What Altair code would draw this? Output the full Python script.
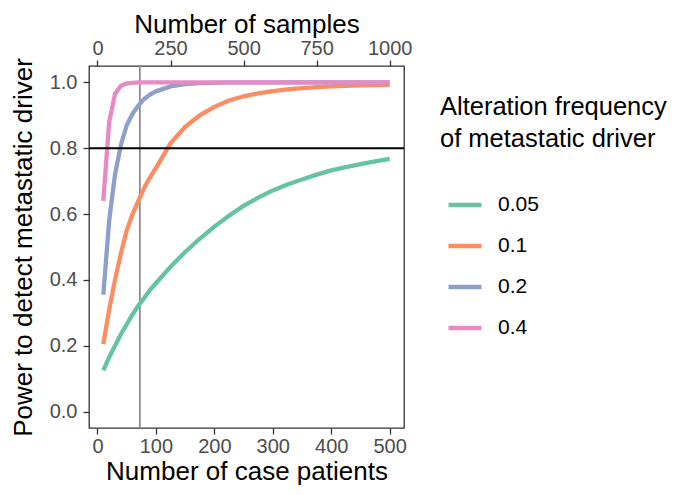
import altair as alt
import pandas as pd

# ---- data ----
n_patients = [10, 20, 30, 40, 50, 60, 70, 80, 90, 100, 125, 150, 175, 200, 225,
              250, 275, 300, 325, 350, 375, 400, 425, 450, 475, 500]
power_005 = [0.125, 0.165, 0.200, 0.235, 0.265, 0.295, 0.322, 0.345, 0.370, 0.390,
             0.440, 0.485, 0.525, 0.562, 0.595, 0.625, 0.650, 0.672, 0.690, 0.705,
             0.720, 0.733, 0.743, 0.752, 0.760, 0.768]
power_01 = [0.205, 0.310, 0.400, 0.480, 0.550, 0.600, 0.640, 0.680, 0.712, 0.740,
            0.815, 0.865, 0.900, 0.926, 0.945, 0.958, 0.967, 0.974, 0.979, 0.983,
            0.986, 0.988, 0.990, 0.991, 0.992, 0.993]
power_02 = [0.355, 0.580, 0.720, 0.810, 0.870, 0.905, 0.930, 0.950, 0.963, 0.973,
            0.988, 0.995, 0.998, 0.999, 1.000, 1.000, 1.000, 1.000, 1.000, 1.000,
            1.000, 1.000, 1.000, 1.000, 1.000, 1.000]
power_04 = [0.640, 0.880, 0.965, 0.990, 0.997, 0.999, 1.000, 1.000, 1.000, 1.000,
            1.000, 1.000, 1.000, 1.000, 1.000, 1.000, 1.000, 1.000, 1.000, 1.000,
            1.000, 1.000, 1.000, 1.000, 1.000, 1.000]
freq_labels = ["0.05", "0.1", "0.2", "0.4"]
colors = ["#66C2A5", "#FC8D62", "#8DA0CB", "#E78AC3"]
threshold = [0.8]
chosen_samples = [145]
x_ticks = [0, 100, 200, 300, 400, 500]
top_ticks = [0, 250, 500, 750, 1000]
y_ticks = [0.0, 0.2, 0.4, 0.6, 0.8, 1.0]

rows = []
for lab, vals in zip(freq_labels, [power_005, power_01, power_02, power_04]):
    for n, v in zip(n_patients, vals):
        rows.append({"patients": n, "power": v, "freq": lab})
df = pd.DataFrame(rows)

FONT = "Liberation Sans"
xscale = alt.Scale(domain=[-14.5, 524.5], nice=False, zero=False)
topscale = alt.Scale(domain=[-29, 1049], nice=False, zero=False)
yscale = alt.Scale(domain=[-0.05, 1.05], nice=False, zero=False)

vline = alt.Chart(pd.DataFrame({"samples": chosen_samples})).mark_rule(
    color="#8C8C8C", strokeWidth=1.8
).encode(
    x=alt.X("samples:Q", scale=topscale,
            axis=alt.Axis(orient="top", title="Number of samples", values=top_ticks,
                          format="d", labelPadding=2, titlePadding=1))
)

lines = alt.Chart(df).mark_line(strokeWidth=4.3, strokeCap="butt").encode(
    x=alt.X("patients:Q", scale=xscale,
            axis=alt.Axis(orient="bottom", title="Number of case patients",
                          values=x_ticks, format="d", labelPadding=2, titlePadding=2)),
    y=alt.Y("power:Q", scale=yscale,
            axis=alt.Axis(title="Power to detect metastatic driver", values=y_ticks,
                          format=".1f", labelPadding=6, titlePadding=13)),
    color=alt.Color("freq:N", sort=freq_labels,
                    scale=alt.Scale(domain=freq_labels, range=colors),
                    legend=alt.Legend(title=["Alteration frequency", "of metastatic driver"])),
)

hline = alt.Chart(pd.DataFrame({"power": threshold})).mark_rule(
    color="black", strokeWidth=1.8
).encode(y=alt.Y("power:Q", scale=yscale))

chart = alt.layer(vline, lines, hline).resolve_scale(x="independent").properties(
    width=315, height=362,
    autosize=alt.AutoSizeParams(type="none"),
    padding={"left": 81, "top": 58, "right": 269, "bottom": 59},
).configure_view(
    stroke="#333333", strokeWidth=1.3
).configure_axis(
    domain=False, grid=False, tickColor="#333333", tickSize=6, tickWidth=1.3,
    labelFont=FONT, labelFontSize=20, labelColor="#4D4D4D",
    titleFont=FONT, titleFontSize=26, titleFontWeight="normal", titleColor="black",
).configure_legend(
    orient="none", legendX=351, legendY=29,
    titleFont=FONT, titleFontSize=25.5, titleFontWeight="normal", titleColor="black",
    titleLineHeight=31.5, titlePadding=34, titleLimit=400,
    labelFont=FONT, labelFontSize=21, labelColor="black", labelOffset=14,
    symbolType="stroke", symbolSize=1089, symbolStrokeWidth=4.3, rowPadding=12,
    symbolOffset=6,
)

chart.save("out.html", embed_options={"renderer": "svg", "actions": False})
